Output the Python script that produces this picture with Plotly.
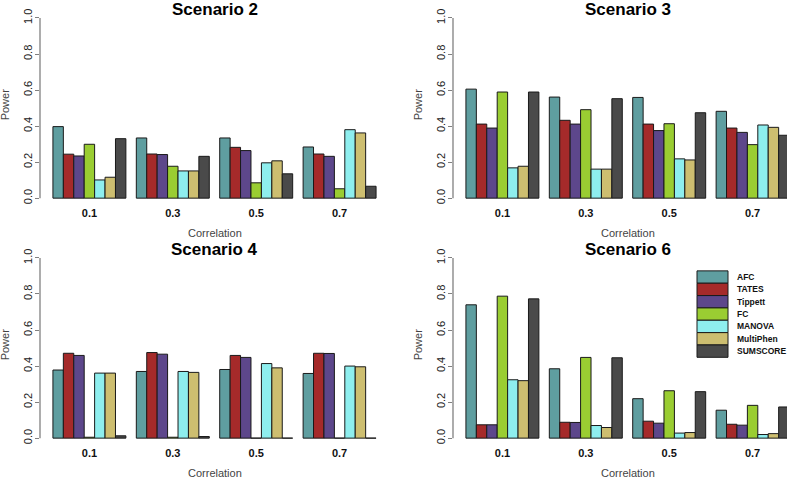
import plotly.graph_objects as go

# correlation levels on the x axis
correlations = ["0.1", "0.3", "0.5", "0.7"]
methods = ["AFC", "TATES", "Tippett", "FC", "MANOVA", "MultiPhen", "SUMSCORE"]
colors = ["#5F9EA0", "#A52A2A", "#5D478B", "#9ACD32", "#8EEEEE", "#CDBE70", "#4A4A4A"]
titles = ["Scenario 2", "Scenario 3", "Scenario 4", "Scenario 6"]

# power per method (rows follow `methods`), values at r = 0.1, 0.3, 0.5, 0.7
scenario2 = [
    [0.397, 0.334, 0.334, 0.284],
    [0.244, 0.245, 0.282, 0.245],
    [0.234, 0.242, 0.264, 0.232],
    [0.299, 0.177, 0.085, 0.052],
    [0.101, 0.151, 0.196, 0.380],
    [0.116, 0.151, 0.207, 0.362],
    [0.330, 0.232, 0.135, 0.066],
]
scenario3 = [
    [0.605, 0.561, 0.559, 0.482],
    [0.411, 0.432, 0.411, 0.389],
    [0.389, 0.411, 0.375, 0.365],
    [0.589, 0.491, 0.413, 0.297],
    [0.168, 0.161, 0.218, 0.406],
    [0.177, 0.161, 0.212, 0.393],
    [0.589, 0.552, 0.474, 0.349],
]
scenario4 = [
    [0.378, 0.370, 0.381, 0.359],
    [0.471, 0.475, 0.459, 0.471],
    [0.459, 0.466, 0.448, 0.470],
    [0.005, 0.005, 0.0, 0.0],
    [0.361, 0.370, 0.414, 0.400],
    [0.361, 0.365, 0.390, 0.396],
    [0.013, 0.009, 0.0, 0.0],
]
scenario6 = [
    [0.740, 0.385, 0.219, 0.155],
    [0.074, 0.088, 0.094, 0.077],
    [0.074, 0.087, 0.083, 0.072],
    [0.788, 0.448, 0.263, 0.182],
    [0.324, 0.070, 0.028, 0.020],
    [0.319, 0.059, 0.031, 0.025],
    [0.773, 0.446, 0.258, 0.173],
]
scenarios = [scenario2, scenario3, scenario4, scenario6]

W, H = 787, 479
FONT = "Liberation Sans, Arial, sans-serif"


def px(x):
    return x / W


def py(y):
    return 1 - y / H


# panel plot regions in pixels: left, top
panels = [(40, 8.8), (453, 8.8), (40, 249.8), (453, 249.8)]
plot_w, plot_h = 349, 195.4
unit = plot_w / (33.48 / 8)  # pixels per category
x_start = -0.5 + 0.0625 - 1.24 / 8

fig = go.Figure()
shapes = []
annotations = []

for i, (data, title, (left, top)) in enumerate(zip(scenarios, titles, panels)):
    n = "" if i == 0 else str(i + 1)
    right = min(left + plot_w, W)
    x_end = x_start + (right - left) / unit
    for m, vals, col in zip(methods, data, colors):
        fig.add_trace(go.Bar(
            x=correlations, y=vals, name=m, marker_color=col,
            marker_line=dict(color="#1a1a1a", width=1),
            xaxis="x" + n, yaxis="y" + n, showlegend=False,
        ))
    fig.layout["xaxis" + n] = dict(
        domain=[px(left), px(right)], anchor="y" + n, range=[x_start, x_end],
        showline=False, showgrid=False, zeroline=False, ticks="",
        tickfont=dict(size=11, color="#111", family=FONT, weight="bold"),
    )
    fig.layout["yaxis" + n] = dict(
        domain=[py(top + plot_h), py(top)], anchor="x" + n, range=[-0.04, 1.04],
        tickvals=[0, 0.2, 0.4, 0.6, 0.8, 1.0], ticktext=["0.0", "0.2", "0.4", "0.6", "0.8", "1.0"],
        tickangle=-90, ticks="outside", ticklen=4, tickcolor="#808080", tickwidth=1.3,
        ticklabelstandoff=-1,
        showline=False, showgrid=False, zeroline=False,
        tickfont=dict(size=11, color="#222", family=FONT),
    )
    shapes.append(dict(type="line", xref="x" + n + " domain", yref="y" + n,
                       x0=0, x1=0, y0=0, y1=1, line=dict(color="#808080", width=1.3)))
    cx = left + plot_w / 2
    annotations.append(dict(text="<b>" + title + "</b>", xref="paper", yref="paper",
                            x=px(cx), y=py(top - 1.5), xanchor="center", yanchor="middle",
                            showarrow=False, font=dict(size=17, color="#000", family=FONT)))
    annotations.append(dict(text="Correlation", xref="paper", yref="paper",
                            x=px(cx), y=py(top + 223.5), xanchor="center", yanchor="middle",
                            showarrow=False, font=dict(size=11, color="#444", family=FONT)))
    annotations.append(dict(text="Power", xref="paper", yref="paper", textangle=-90,
                            x=px(left - 35), y=py(top + 94), xanchor="center", yanchor="middle",
                            showarrow=False, font=dict(size=11, color="#444", family=FONT)))

# legend drawn as stacked swatches inside the Scenario 6 panel
leg_x0, leg_x1, leg_top, leg_h = 697, 728, 270, 12.4
for k, (m, col) in enumerate(zip(methods, colors)):
    y0 = leg_top + k * leg_h
    shapes.append(dict(type="rect", xref="paper", yref="paper",
                       x0=px(leg_x0), x1=px(leg_x1), y0=py(y0 + leg_h), y1=py(y0),
                       fillcolor=col, line=dict(color="#1a1a1a", width=1)))
    annotations.append(dict(text="<b>" + m + "</b>", xref="paper", yref="paper",
                            x=px(735), y=py(y0 + leg_h / 2), xanchor="left", yanchor="middle",
                            showarrow=False, font=dict(size=8.5, color="#111", family=FONT)))

fig.update_layout(
    width=W, height=H, margin=dict(l=0, r=0, t=0, b=0),
    barmode="group", bargap=0.125, bargroupgap=0,
    plot_bgcolor="white", paper_bgcolor="white",
    shapes=shapes, annotations=annotations,
)

# the page's default body margin would push the figure off the window
fig.write_html("out.html", config={"displayModeBar": False},
               post_script="document.body.style.margin='0';")
